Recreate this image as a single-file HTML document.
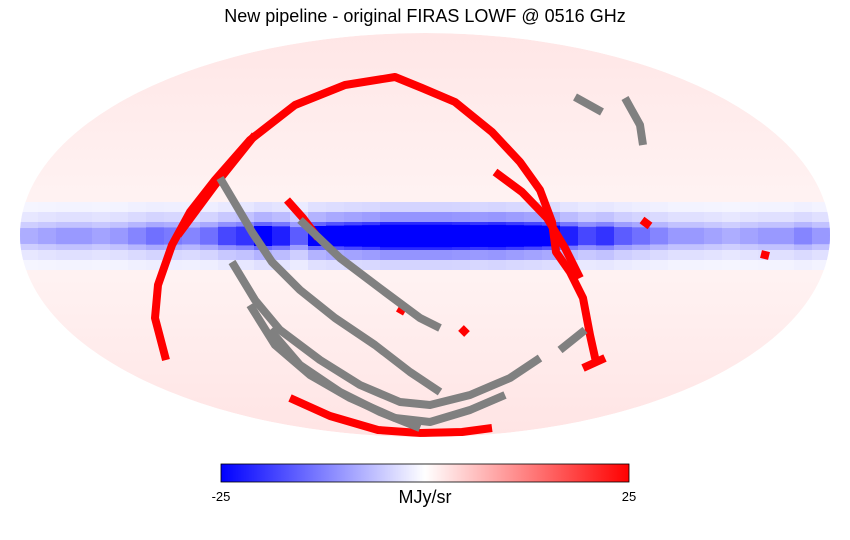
<!DOCTYPE html>
<html><head><meta charset="utf-8"><style>
body{margin:0;background:#fff;}
svg{display:block;font-family:"Liberation Sans",sans-serif;}
</style></head><body>
<svg width="850" height="540" viewBox="0 0 850 540">
<defs>
<clipPath id="clip"><ellipse cx="425" cy="235" rx="405" ry="202"/></clipPath>
<linearGradient id="cb" x1="0" x2="1" y1="0" y2="0">
<stop offset="0" stop-color="#0000ff"/><stop offset="0.5" stop-color="#ffffff"/><stop offset="1" stop-color="#ff0000"/>
</linearGradient>
<linearGradient id="fade" x1="0" x2="0" y1="0" y2="1">
<stop offset="0" stop-color="#ffe6e6"/>
<stop offset="0.4" stop-color="#fff2f2"/>
<stop offset="0.6" stop-color="#fff2f2"/>
<stop offset="1" stop-color="#ffe4e4"/>
</linearGradient>
</defs>
<text x="425" y="22" text-anchor="middle" font-size="18" fill="#000">New pipeline - original FIRAS LOWF @ 0516 GHz</text>
<g clip-path="url(#clip)" id="map">
<ellipse cx="425" cy="235" rx="405" ry="202" fill="url(#fade)"/>
<g id="band"></g>
<g id="tracks"></g>
</g>
<rect x="221" y="464" width="408" height="18" fill="url(#cb)" stroke="#000" stroke-width="0.8"/>
<text x="221" y="501" text-anchor="middle" font-size="13">-25</text>
<text x="629" y="501" text-anchor="middle" font-size="13">25</text>
<text x="425" y="503" text-anchor="middle" font-size="18">MJy/sr</text>
</svg>
<script>
// galactic-plane intensity (MJy/sr, negative = blue) per longitude column, left to right
const bandValues = [-8,-9,-10,-10,-9,-10,-12,-14,-13,-12,-14,-18,-20,-25,-22,-16,-25,-28,-30,-32,-35,-35,-35,-35,-34,-33,-34,-32,-30,-28,-22,-18,-20,-16,-14,-12,-10,-10,-9,-8,-9,-10,-10,-12,-10];
const cmin = -25, cmax = 25;
const NS = 'http://www.w3.org/2000/svg';
function color(v){
  let t = Math.max(-1, Math.min(1, v/cmax));
  if (t < 0) { const c = Math.round(255*(1+t)); return `rgb(${c},${c},255)`; }
  const c = Math.round(255*(1-t)); return `rgb(255,${c},${c})`;
}
const band = document.getElementById('band');
const x0 = 20, x1 = 830, w = (x1-x0)/bandValues.length;
bandValues.forEach((v,i)=>{
  const s = Math.min(Math.abs(v),35);
  const layers = [[34, 0.12],[24, 0.3],[14, 0.6],[7+s*0.12, 1.0]];
  layers.forEach(([half,f])=>{
    const r = document.createElementNS(NS,'rect');
    
    
    r.setAttribute('x', x0+i*w); r.setAttribute('width', w+1);
    r.setAttribute('y', 236-half); r.setAttribute('height', 2*half);
    r.setAttribute('fill', color(v*f));
    band.appendChild(r);
  });
});
const tracks = document.getElementById('tracks');
const redTracks = [
 "M166,360 L155,318 L158,285 L172,245 L190,212 L215,180 L250,140 L295,105 L345,85 L395,77 L422,88 L455,102 L492,132 L520,162 L540,190 L552,222 L556,252 L570,272 L583,298 L590,335 L596,362",
 "M178,235 L215,185 L255,135",
 "M287,200 L303,218 L318,238",
 "M495,172 L522,192 L547,218 L565,248 L580,278",
 "M290,398 L330,416 L378,430 L420,433 L462,432 L492,428",
 "M583,368 L605,358",
 "M642,220 L650,226",
 "M761,254 L769,256",
 "M398,308 L405,312",
 "M461,328 L467,334"
];
const grayTracks = [
 "M220,178 L236,205 L252,232 L272,262 L300,290 L335,318 L375,345 L410,372 L440,392",
 "M300,220 L340,258 L385,292 L420,318 L440,328",
 "M232,262 L255,300 L280,330 L320,360 L360,385 L400,402 L430,405 L470,395 L510,378 L540,358",
 "M250,305 L275,345 L310,375 L350,398 L395,418 L430,422 L470,410 L505,395",
 "M270,330 L300,365 L340,392 L380,412 L420,428",
 "M560,350 L585,330",
 "M575,97 L602,112",
 "M625,98 L640,125 L643,145"
];
redTracks.forEach(d=>{
  const p = document.createElementNS(NS,'path');
  
  
  p.setAttribute('d', d); p.setAttribute('fill','none');
  p.setAttribute('stroke','#ff0000'); p.setAttribute('stroke-width','8');
  p.setAttribute('stroke-linejoin','round');
  tracks.appendChild(p);
});
grayTracks.forEach(d=>{
  const p = document.createElementNS(NS,'path');
  
  
  p.setAttribute('d', d); p.setAttribute('fill','none');
  p.setAttribute('stroke','#808080'); p.setAttribute('stroke-width','8');
  p.setAttribute('stroke-linejoin','round');
  tracks.appendChild(p);
});
</script>
</body></html>
